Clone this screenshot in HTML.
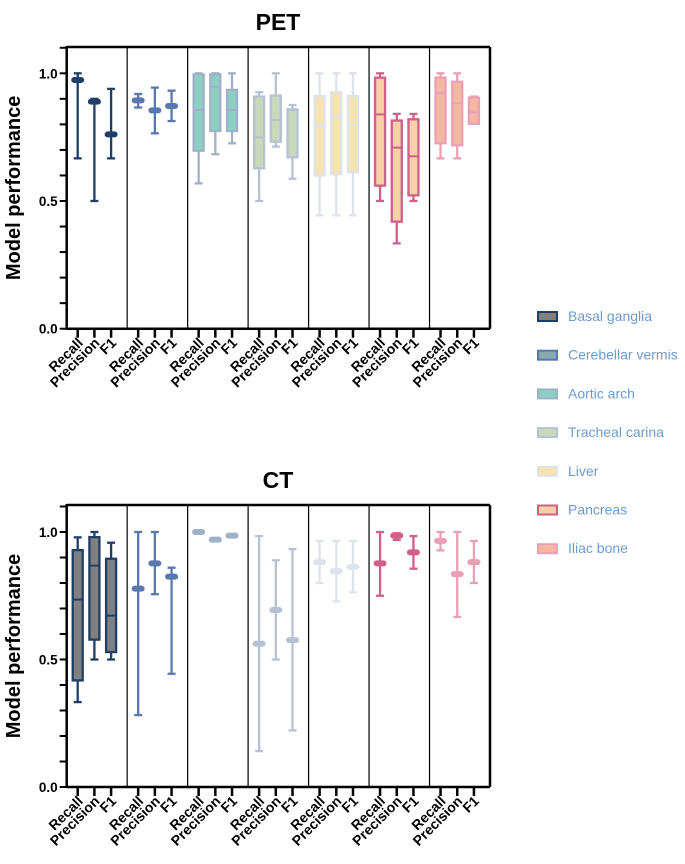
<!DOCTYPE html>
<html><head><meta charset="utf-8"><style>
body{margin:0;background:#fff;}
svg{display:block;font-family:"Liberation Sans",Arial,sans-serif;}
</style></head><body>
<svg id="chart" width="685" height="864" viewBox="0 0 685 864"></svg>
<script>
const groups=["Basal ganglia","Cerebellar vermis","Aortic arch","Tracheal carina","Liver","Pancreas","Iliac bone"];
const metrics=["Recall","Precision","F1"];
const strokes=["#1f3f66","#5a78b0","#9fb0c8","#b5c2d3","#dde3ea","#d0608a","#eaa0b4"];
const fills=["#808080","#8aa8b0","#8ecfc4","#c8d8b8","#f6e3b0","#f9cfa8","#f4b8a0"];
const yTicks=[0,0.5,1.0];
// PET [min,q1,median,q3,max]
const petData=[
[[0.667,0.965,0.974,0.98,1.0],[0.5,0.88,0.889,0.9,0.9],[0.667,0.75,0.761,0.77,0.939]],
[[0.866,0.885,0.894,0.905,0.919],[0.765,0.845,0.855,0.865,0.944],[0.813,0.862,0.872,0.882,0.932]],
[[0.569,0.697,0.856,0.996,1.0],[0.683,0.774,0.948,0.996,1.0],[0.726,0.774,0.856,0.935,1.0]],
[[0.5,0.628,0.749,0.909,0.926],[0.713,0.732,0.817,0.913,1.0],[0.587,0.671,0.856,0.859,0.876]],
[[0.444,0.6,0.794,0.911,1.0],[0.444,0.604,0.83,0.926,1.0],[0.444,0.612,0.8,0.911,1.0]],
[[0.5,0.56,0.839,0.983,1.0],[0.334,0.419,0.709,0.815,0.841],[0.5,0.522,0.675,0.82,0.841]],
[[0.667,0.726,0.924,0.983,1.0],[0.667,0.718,0.883,0.967,1.0],[0.802,0.802,0.847,0.905,0.909]]];
const petBox=[false,false,true,true,true,true,true];
// CT
const ctData=[
[[0.333,0.418,0.735,0.929,0.979],[0.5,0.578,0.868,0.98,1.0],[0.5,0.529,0.672,0.895,0.958]],
[[0.282,0.778,0.778,0.778,1.0],[0.756,0.877,0.877,0.877,1.0],[0.444,0.825,0.825,0.825,0.86]],
[[1.0,1.0,1.0,1.0,1.0],[0.97,0.97,0.97,0.97,0.97],[0.986,0.986,0.986,0.986,0.986]],
[[0.141,0.562,0.562,0.562,0.984],[0.5,0.694,0.694,0.694,0.889],[0.222,0.576,0.576,0.576,0.933]],
[[0.8,0.882,0.882,0.882,0.965],[0.728,0.846,0.846,0.846,0.965],[0.763,0.863,0.863,0.863,0.965]],
[[0.75,0.877,0.877,0.877,1.0],[0.969,0.986,0.986,0.986,0.995],[0.856,0.92,0.92,0.92,0.984]],
[[0.928,0.965,0.965,0.965,1.0],[0.667,0.835,0.835,0.835,1.0],[0.8,0.882,0.882,0.882,0.965]]];
const ctBox=[true,false,false,false,false,false,false];

const NS="http://www.w3.org/2000/svg";
const svg=document.getElementById('chart');
function mk(tag,attrs,parent){const e=document.createElementNS(NS,tag);for(const k in attrs)e.setAttribute(k,attrs[k]);(parent||svg).appendChild(e);return e;}

function panel(title,data,boxes,top,y0px,y1px,name){
  const left=66.7,right=490;
  const y=v=>y0px-(y0px-y1px)*v;
  const g=mk('g',{});
  
  
  const t=mk('text',{x:278,y:top-17,'text-anchor':'middle','font-size':23,'font-weight':'bold',fill:'#000'},g);
  t.textContent=title;
  
  
  const yt=mk('text',{transform:`translate(20,${(top+y0px)/2}) rotate(-90)`,'text-anchor':'middle','font-size':20,'font-weight':'bold',fill:'#000'},g);
  yt.textContent='Model performance';
  
  
  const gw=(right-left)/7;
  mk('line',{x1:left,y1:top,x2:right,y2:top,stroke:'#000','stroke-width':2.5},g);
  mk('line',{x1:right,y1:top,x2:right,y2:y0px,stroke:'#000','stroke-width':2.5},g);
  for(let i=1;i<7;i++) mk('line',{x1:left+gw*i,y1:top,x2:left+gw*i,y2:y0px,stroke:'#000','stroke-width':1.2},g);
  for(let k=0;k<=11;k++){const v=k/10;mk('line',{x1:left-7,y1:y(v),x2:left,y2:y(v),stroke:'#000','stroke-width':2},g);}
  yTicks.forEach(v=>{const tx=mk('text',{x:left-9,y:y(v)+5,'text-anchor':'end','font-size':13.5,'font-weight':'bold',fill:'#000'},g);tx.textContent=v.toFixed(1);
    
    });
  mk('line',{x1:left,y1:y0px,x2:right,y2:y0px,stroke:'#000','stroke-width':2.5},g);
  mk('line',{x1:left,y1:top-1,x2:left,y2:y0px+1,stroke:'#000','stroke-width':2.5},g);
  data.forEach((grp,gi)=>{
    grp.forEach((d,mi)=>{
      const cx=left+gw*gi+11+mi*16.7;
      mk('line',{x1:cx,y1:y0px,x2:cx,y2:y0px+9,stroke:'#000','stroke-width':2.5},g);
      const lb=mk('text',{transform:`translate(${cx+6},${y0px+15}) rotate(-45)`,'text-anchor':'end','font-size':14,'font-weight':'bold',fill:'#000'},g);
      lb.textContent=metrics[mi];
      
      
      const s=strokes[gi];
      const bg=mk('g',{},g);
      
      
      mk('line',{x1:cx,y1:y(d[0]),x2:cx,y2:y(d[4]),stroke:s,'stroke-width':2.3},bg);
      mk('line',{x1:cx-4,y1:y(d[0]),x2:cx+4,y2:y(d[0]),stroke:s,'stroke-width':2.3},bg);
      mk('line',{x1:cx-4,y1:y(d[4]),x2:cx+4,y2:y(d[4]),stroke:s,'stroke-width':2.3},bg);
      if(boxes[gi]){
        mk('rect',{x:cx-5,y:y(d[3]),width:10,height:Math.max(1,y(d[1])-y(d[3])),fill:fills[gi],stroke:s,'stroke-width':2.3},bg);
        mk('line',{x1:cx-6,y1:y(d[2]),x2:cx+6,y2:y(d[2]),stroke:s,'stroke-width':2},bg);
      }else{
        mk('rect',{x:cx-6.5,y:y(d[2])-3,width:13,height:6,rx:3,fill:s},bg);
      }
    });
  });
}
panel('PET',petData,petBox,47,328.7,73.3,'pet');
panel('CT',ctData,ctBox,505,787,532,'ct');

groups.forEach((nm,i)=>{
  const yy=316+i*38.7;
  const lg=mk('g',{});
  
  
  mk('rect',{x:538,y:yy-4,width:19,height:9,fill:fills[i],stroke:strokes[i],'stroke-width':2},lg);
  const t=mk('text',{x:568,y:yy+5,'font-size':14,fill:'#6a9bd0'},lg);
  t.textContent=nm;
});
</script>
</body></html>
